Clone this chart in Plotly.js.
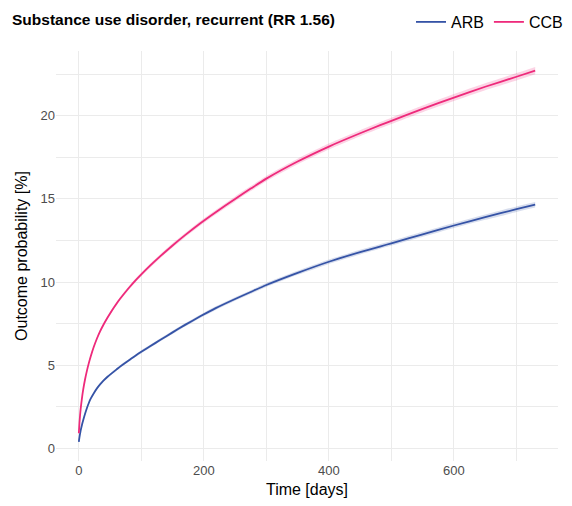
<!DOCTYPE html>
<html>
<head>
<meta charset="utf-8">
<script src="https://cdn.plot.ly/plotly-3.0.1.min.js"></script>
<style>html,body{margin:0;padding:0;background:#fff;}#chart{width:572px;height:506px;}</style>
</head>
<body>
<div id="chart"></div>
<script>
const days = [0, 1, 2, 3, 5, 7, 10, 13, 16, 19, 24, 29, 34, 39, 46, 53, 60, 66, 74, 82, 90, 100, 114, 130, 150, 170, 195, 219, 250, 275, 300, 350, 400, 450, 483, 500, 550, 600, 650, 700, 730];
const ccb = [0.9, 1.5, 1.98, 2.38, 3.0, 3.52, 4.15, 4.67, 5.12, 5.52, 6.1, 6.6, 7.03, 7.4, 7.86, 8.29, 8.68, 8.99, 9.37, 9.73, 10.07, 10.46, 10.98, 11.54, 12.2, 12.82, 13.55, 14.2, 15.0, 15.62, 16.22, 17.25, 18.15, 18.95, 19.45, 19.7, 20.42, 21.1, 21.75, 22.35, 22.72];
const arb = [0.38, 0.65, 0.88, 1.07, 1.4, 1.68, 2.07, 2.42, 2.72, 2.98, 3.31, 3.6, 3.84, 4.05, 4.3, 4.52, 4.73, 4.91, 5.13, 5.34, 5.55, 5.8, 6.13, 6.51, 6.97, 7.42, 7.95, 8.43, 8.98, 9.4, 9.82, 10.55, 11.22, 11.8, 12.15, 12.33, 12.87, 13.4, 13.9, 14.38, 14.65];
const ccbHalf = [0.03, 0.04, 0.04, 0.05, 0.05, 0.06, 0.06, 0.07, 0.07, 0.08, 0.08, 0.08, 0.09, 0.09, 0.09, 0.1, 0.1, 0.1, 0.11, 0.11, 0.11, 0.11, 0.12, 0.12, 0.13, 0.13, 0.14, 0.14, 0.15, 0.15, 0.16, 0.17, 0.18, 0.18, 0.19, 0.19, 0.2, 0.21, 0.21, 0.22, 0.22];
const arbHalf = [0.02, 0.03, 0.03, 0.04, 0.04, 0.04, 0.05, 0.05, 0.05, 0.06, 0.06, 0.06, 0.07, 0.07, 0.07, 0.07, 0.08, 0.08, 0.08, 0.08, 0.08, 0.09, 0.09, 0.09, 0.1, 0.1, 0.1, 0.11, 0.11, 0.11, 0.12, 0.12, 0.13, 0.14, 0.14, 0.14, 0.15, 0.15, 0.16, 0.17, 0.17];
const seriesNames = ['ARB', 'CCB'];
const xTicks = [0, 200, 400, 600];
const yTicks = [0, 5, 10, 15, 20];

const blue = '#3553a6';
const pink = '#ee2a7b';

function band(vals, half, sign) { return vals.map((v, i) => v + sign * half[i]); }

const sm = 0.6;
const traces = [
  {x: days, y: band(arb, arbHalf, -1), mode: 'lines', line: {width: 0, shape: 'spline', smoothing: sm}, showlegend: false, hoverinfo: 'skip'},
  {x: days, y: band(arb, arbHalf, 1), mode: 'lines', line: {width: 0, shape: 'spline', smoothing: sm}, fill: 'tonexty', fillcolor: 'rgba(53,83,166,0.2)', showlegend: false, hoverinfo: 'skip'},
  {x: days, y: band(ccb, ccbHalf, -1), mode: 'lines', line: {width: 0, shape: 'spline', smoothing: sm}, showlegend: false, hoverinfo: 'skip'},
  {x: days, y: band(ccb, ccbHalf, 1), mode: 'lines', line: {width: 0, shape: 'spline', smoothing: sm}, fill: 'tonexty', fillcolor: 'rgba(238,42,123,0.2)', showlegend: false, hoverinfo: 'skip'},
  {x: days, y: arb, name: seriesNames[0], mode: 'lines', line: {color: blue, width: 1.8, shape: 'spline', smoothing: sm}},
  {x: days, y: ccb, name: seriesNames[1], mode: 'lines', line: {color: pink, width: 1.8, shape: 'spline', smoothing: sm}}
];

const gridColor = '#ebebeb';
const W = 572, H = 506;
const layout = {
  width: W, height: H,
  margin: {l: 56, r: 14, t: 51, b: 45},
  paper_bgcolor: '#fff', plot_bgcolor: '#fff',
  font: {family: 'Liberation Sans, Arial, sans-serif', color: '#000'},
  title: {text: '<b>Substance use disorder, recurrent (RR 1.56)</b>', x: 12 / W, xref: 'container', xanchor: 'left', y: 1 - 20 / H, yref: 'container', yanchor: 'middle', font: {size: 15.5, color: '#000'}},
  showlegend: true,
  legend: {orientation: 'h', traceorder: 'normal', x: 568 / W, xref: 'container', xanchor: 'right', y: 1 - 5 / H, yref: 'container', yanchor: 'top', font: {size: 16, color: '#000'}, itemwidth: 30, bgcolor: 'rgba(0,0,0,0)'},
  xaxis: {
    range: [-36.5, 766.5], tickvals: xTicks, ticktext: xTicks.map(String),
    showgrid: true, gridcolor: gridColor, gridwidth: 1, zeroline: false, showline: false, ticks: '',
    minor: {tickvals: [100, 300, 500, 700], showgrid: true, gridcolor: gridColor, gridwidth: 1},
    tickfont: {size: 13, color: '#4d4d4d'},
    title: {text: 'Time [days]', font: {size: 16, color: '#000'}, standoff: 6}
  },
  yaxis: {
    range: [-0.77, 23.9], tickvals: yTicks, ticktext: yTicks.map(String),
    showgrid: true, gridcolor: gridColor, gridwidth: 1, zeroline: false, showline: false, ticks: '',
    minor: {tickvals: [2.5, 7.5, 12.5, 17.5, 22.5], showgrid: true, gridcolor: gridColor, gridwidth: 1},
    tickfont: {size: 13, color: '#4d4d4d'},
    title: {text: 'Outcome probability [%]', font: {size: 16, color: '#000'}, standoff: 8}
  }
};

Plotly.newPlot('chart', traces, layout, {displayModeBar: false, staticPlot: true});
</script>
</body>
</html>
